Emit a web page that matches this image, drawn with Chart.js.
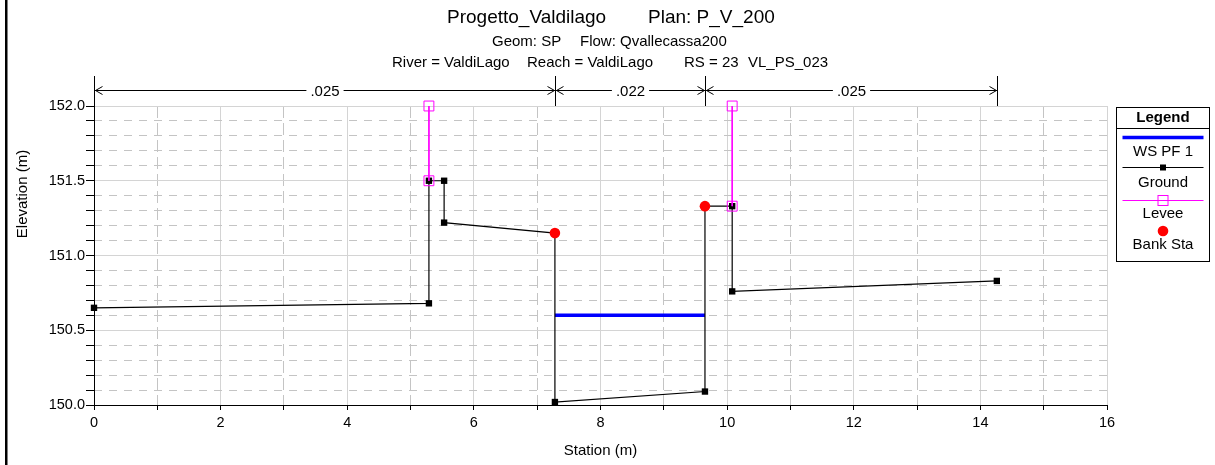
<!DOCTYPE html>
<html>
<head>
<meta charset="utf-8">
<title>Progetto_Valdilago - RS 23</title>
<script src="https://cdn.jsdelivr.net/npm/chart.js@4.4.1/dist/chart.umd.min.js"></script>
<style>
    html, body { margin: 0; padding: 0; background: #fff; }
    #wrap { width: 1215px; height: 465px; position: relative; }
</style>
</head>
<body>
<div id="wrap"><canvas id="sezione" width="1215" height="465"></canvas></div>
<script>
// dati della sezione
const groundStation = [0, 5.29, 5.29, 5.53, 5.53, 7.28, 7.28, 9.65, 9.65, 10.08, 10.08, 14.26];
const groundElev    = [150.65, 150.68, 151.50, 151.50, 151.22, 151.15, 150.02, 150.09, 151.33, 151.33, 150.76, 150.83];

const leveeStation = [5.29, 10.08];
const leveeTop     = [152.00, 152.00];
const leveeBase    = [151.50, 151.33];

const bankStation = [7.28, 9.65];
const bankElev    = [151.15, 151.33];

const wsStation = [7.28, 9.65];
const wsElev    = [150.60, 150.60];

// coefficienti di Manning
const nStations = [0, 7.28, 9.65, 14.26];
const nValues   = ['.025', '.022', '.025'];

const seriesNames = ['WS PF 1', 'Ground', 'Levee', 'Bank Sta'];

const xTicksMajor = [0, 2, 4, 6, 8, 10, 12, 14, 16];
const yTicksMajor = [150.0, 150.5, 151.0, 151.5, 152.0];

const FONT = '"Liberation Sans", Arial, sans-serif';

const isMajorX = v => xTicksMajor.some(t => Math.abs(t - v) < 1e-6);
const isMajorY = v => yTicksMajor.some(t => Math.abs(t - v) < 1e-6);

// costruzione punti
const pts = (xs, ys) => xs.map((x, i) => ({ x: x, y: ys[i] }));
const leveePoints = leveeStation.flatMap((s, i) => [
    { x: s, y: leveeTop[i] },
    { x: s, y: leveeBase[i] },
    { x: s, y: null }
]);

// titoli, legenda e quote di scabrezza
const overlayPlugin = {
    id: 'overlay',
    afterDraw(chart) {
        const ctx = chart.ctx;
        const xs = chart.scales.x;
        const area = chart.chartArea;
        ctx.save();

        // bordo sinistro
        ctx.fillStyle = '#000';
        ctx.fillRect(5, 0, 2.5, chart.height);

        // titoli
        ctx.textBaseline = 'middle';
        ctx.textAlign = 'left';
        ctx.font = '19px ' + FONT;
        ctx.fillText('Progetto_Valdilago', 447, 18);
        ctx.fillText('Plan: P_V_200', 648, 18);
        ctx.font = '15px ' + FONT;
        ctx.fillText('Geom: SP', 492, 42);
        ctx.fillText('Flow: Qvallecassa200', 580, 42);
        ctx.fillText('River = ValdiLago', 392, 63);
        ctx.fillText('Reach = ValdiLago', 527, 63);
        ctx.fillText('RS = 23', 684, 63);
        ctx.fillText('VL_PS_023', 748, 63);

        // titoli assi
        ctx.textAlign = 'center';
        ctx.fillText('Station (m)', (area.left + area.right) / 2, 451);
        ctx.save();
        ctx.translate(23, 194);
        ctx.rotate(-Math.PI / 2);
        ctx.fillText('Elevation (m)', 0, 0);
        ctx.restore();

        // quote di scabrezza
        const yDim = 90.5, yTop = 76;
        ctx.strokeStyle = '#000';
        ctx.lineWidth = 1;
        const px = nStations.map(s => Math.round(xs.getPixelForValue(s)) + 0.5);
        px.forEach(p => {
            ctx.beginPath();
            ctx.moveTo(p, yTop);
            ctx.lineTo(p, area.top);
            ctx.stroke();
        });
        ctx.font = '15px ' + FONT;
        nValues.forEach((label, i) => {
            const a = px[i], b = px[i + 1];
            const mid = (a + b) / 2;
            const w = ctx.measureText(label).width;
            ctx.beginPath();
            ctx.moveTo(a, yDim);
            ctx.lineTo(mid - w / 2 - 4, yDim);
            ctx.moveTo(mid + w / 2 + 4, yDim);
            ctx.lineTo(b, yDim);
            // frecce
            ctx.moveTo(a + 8, yDim - 4);
            ctx.lineTo(a + 1, yDim);
            ctx.lineTo(a + 8, yDim + 4);
            ctx.moveTo(b - 8, yDim - 4);
            ctx.lineTo(b - 1, yDim);
            ctx.lineTo(b - 8, yDim + 4);
            ctx.stroke();
            ctx.fillText(label, mid, yDim + 1);
        });

        // legenda
        const lx = 1116.5, ly = 107.5, lw = 93, lh = 154;
        const cx = lx + lw / 2;
        ctx.fillStyle = '#fff';
        ctx.fillRect(lx, ly, lw, lh);
        ctx.strokeStyle = '#000';
        ctx.strokeRect(lx, ly, lw, lh);
        ctx.beginPath();
        ctx.moveTo(lx, 128.5);
        ctx.lineTo(lx + lw, 128.5);
        ctx.stroke();
        ctx.fillStyle = '#000';
        ctx.font = 'bold 15px ' + FONT;
        ctx.fillText('Legend', cx, 118);

        const x0 = lx + 6, x1 = lx + lw - 6;
        ctx.font = '15px ' + FONT;
        // WS PF 1
        ctx.strokeStyle = '#0000ff';
        ctx.lineWidth = 3.5;
        ctx.beginPath(); ctx.moveTo(x0, 137.5); ctx.lineTo(x1, 137.5); ctx.stroke();
        ctx.fillText(seriesNames[0], cx, 152);
        // Ground
        ctx.strokeStyle = '#000';
        ctx.lineWidth = 1;
        ctx.beginPath(); ctx.moveTo(x0, 167.5); ctx.lineTo(x1, 167.5); ctx.stroke();
        ctx.fillRect(cx - 3, 164.5, 6, 6);
        ctx.fillText(seriesNames[1], cx, 183);
        // Levee
        ctx.strokeStyle = '#ff00ff';
        ctx.beginPath(); ctx.moveTo(x0, 200.5); ctx.lineTo(x1, 200.5); ctx.stroke();
        ctx.strokeRect(cx - 5, 195.5, 10, 10);
        ctx.fillStyle = '#000';
        ctx.fillText(seriesNames[2], cx, 214);
        // Bank Sta
        ctx.fillStyle = '#ff0000';
        ctx.beginPath(); ctx.arc(cx, 231, 5.3, 0, Math.PI * 2); ctx.fill();
        ctx.fillStyle = '#000';
        ctx.fillText(seriesNames[3], cx, 245);

        ctx.restore();
    }
};

const tickFont = { family: FONT, size: 14.5 };

new Chart(document.getElementById('sezione'), {
    type: 'scatter',
    data: {
        datasets: [
            {
                label: seriesNames[3],
                data: pts(bankStation, bankElev),
                showLine: false,
                pointStyle: 'circle',
                pointRadius: 5.3,
                pointBackgroundColor: '#ff0000',
                pointBorderWidth: 0,
                clip: false
            },
            {
                label: seriesNames[2],
                data: leveePoints,
                showLine: true,
                spanGaps: false,
                borderColor: '#ff00ff',
                borderWidth: 1,
                pointStyle: 'rect',
                pointRadius: 7,
                pointBackgroundColor: 'rgba(0,0,0,0)',
                pointBorderColor: '#ff00ff',
                pointBorderWidth: 1,
                clip: false
            },
            {
                label: seriesNames[1],
                data: pts(groundStation, groundElev),
                showLine: true,
                borderColor: '#000',
                borderWidth: 1.2,
                pointStyle: 'rect',
                pointRadius: 4.5,
                pointBackgroundColor: '#000',
                pointBorderWidth: 0,
                clip: false
            },
            {
                label: seriesNames[0],
                data: pts(wsStation, wsElev),
                showLine: true,
                borderColor: '#0000ff',
                borderWidth: 3.5,
                pointRadius: 0
            }
        ]
    },
    options: {
        responsive: false,
        animation: false,
        events: [],
        devicePixelRatio: 1,
        layout: { padding: { top: 106, right: 108, bottom: 0, left: 0 } },
        plugins: {
            legend: { display: false },
            title: { display: false },
            tooltip: { enabled: false }
        },
        scales: {
            x: {
                type: 'linear',
                position: 'bottom',
                min: 0,
                max: 16,
                afterFit: s => { s.height = 60; },
                ticks: {
                    stepSize: 1,
                    autoSkip: false,
                    maxRotation: 0,
                    padding: 4,
                    color: '#000',
                    font: tickFont,
                    callback: v => isMajorX(v) ? String(v) : ''
                },
                grid: {
                    color: c => isMajorX(c.tick.value) ? '#d4d4d4' : 'rgba(0,0,0,0)',
                    tickColor: '#000',
                    tickLength: 5
                },
                border: { color: '#000', width: 1 }
            },
            x2: {
                type: 'linear',
                position: 'bottom',
                min: 0,
                max: 16,
                afterFit: s => { s.height = 0; },
                ticks: { display: false, stepSize: 1, autoSkip: false },
                grid: {
                    color: c => isMajorX(c.tick.value) ? 'rgba(0,0,0,0)' : '#c4c4c4',
                    drawTicks: false
                },
                border: { display: false, dash: [12, 5] }
            },
            y: {
                type: 'linear',
                position: 'left',
                min: 150,
                max: 152,
                afterFit: s => { s.width = 94; },
                ticks: {
                    stepSize: 0.1,
                    autoSkip: false,
                    padding: 1,
                    color: '#000',
                    font: tickFont,
                    callback: v => isMajorY(v) ? v.toFixed(1) : ''
                },
                grid: {
                    color: c => isMajorY(c.tick.value) ? '#d4d4d4' : 'rgba(0,0,0,0)',
                    tickColor: '#000',
                    tickLength: 8
                },
                border: { color: '#000', width: 1 }
            },
            y2: {
                type: 'linear',
                position: 'left',
                min: 150,
                max: 152,
                afterFit: s => { s.width = 0; },
                ticks: { display: false, stepSize: 0.1, autoSkip: false },
                grid: {
                    color: c => isMajorY(c.tick.value) ? 'rgba(0,0,0,0)' : '#c4c4c4',
                    drawTicks: false
                },
                border: { display: false, dash: [8, 7] }
            }
        }
    },
    plugins: [overlayPlugin]
});
</script>
</body>
</html>
